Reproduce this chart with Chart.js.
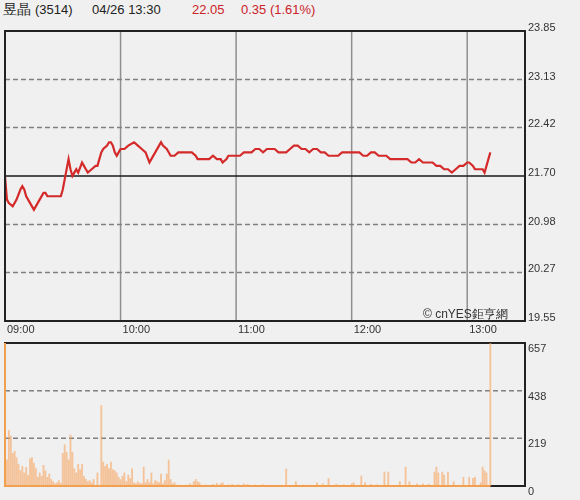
<!DOCTYPE html>
<html><head><meta charset="utf-8">
<script src="https://cdn.jsdelivr.net/npm/chart.js@4"></script>
<style>
html,body{margin:0;padding:0;background:#f0f0f0;width:580px;height:500px;overflow:hidden;font-family:"Liberation Sans",Arial,sans-serif;}
#hdr{position:absolute;left:0;top:2px;width:580px;height:18px;font-size:13px;color:#222;}
#hdr span{position:absolute;top:0;white-space:nowrap;}
.red{color:#cc2229;}
#c1{position:absolute;left:0;top:0;}
#c2{position:absolute;left:0;top:330px;}
#wm{position:absolute;left:423px;top:306px;font-size:12px;color:#333;white-space:nowrap;}
</style></head><body>
<div id="hdr"><span style="left:3px;font-size:14px;top:-1px">昱晶 <span style="position:static;font-size:13px">(3514)</span></span><span style="left:92px">04/26 13:30</span><span class="red" style="left:192px">22.05</span><span class="red" style="left:241px">0.35 (1.61%)</span></div>
<canvas id="c1" width="580" height="340"></canvas>
<canvas id="c2" width="580" height="170"></canvas>
<div id="wm">© cnYES鉅亨網</div>
<script>
// minutes after 09:00
const hourTicks = [0, 60, 120, 180, 240];
const hourLabels = ['09:00', '10:00', '11:00', '12:00', '13:00'];
const priceTickLabels = ['19.55', '20.27', '20.98', '21.70', '22.42', '23.13', '23.85'];
const prevClose = 21.70;
const volTickLabels = ['0', '219', '438', '657'];

const priceTimes = [0,1,2,4,6,8,9,10,11,12,14,15,16,18,20,21,22,24,27,29,30,31,32,33,34,35,36,37,38,40,41,42,43,45,47,48,49,50,51,53,54,55,56,57,58,59,60,62,64,67,69,71,73,75,76,78,80,81,82,84,86,88,90,92,95,97,99,100,102,104,106,108,110,112,113,115,116,118,120,122,124,126,128,130,132,134,136,138,140,142,144,146,148,150,152,154,156,158,160,162,164,166,168,170,173,175,178,180,182,184,186,188,190,192,194,196,198,200,203,206,209,211,213,215,217,220,222,224,226,228,230,232,234,236,238,240,241,243,244,246,248,249,250,251,252];
const prices = [21.70,21.35,21.30,21.25,21.35,21.50,21.55,21.50,21.40,21.35,21.25,21.20,21.25,21.35,21.45,21.45,21.40,21.40,21.40,21.40,21.50,21.65,21.80,21.95,21.80,21.70,21.75,21.80,21.75,21.90,21.85,21.80,21.75,21.80,21.85,21.85,21.95,22.05,22.10,22.15,22.20,22.20,22.15,22.05,22.00,22.05,22.10,22.10,22.15,22.20,22.15,22.10,22.05,21.90,21.95,22.05,22.15,22.20,22.15,22.10,22.00,22.00,22.05,22.05,22.05,22.05,22.00,21.95,21.95,21.95,21.95,22.00,21.95,21.95,21.90,21.95,22.00,22.00,22.00,22.00,22.05,22.05,22.05,22.10,22.10,22.05,22.10,22.10,22.10,22.05,22.05,22.05,22.10,22.15,22.15,22.10,22.10,22.05,22.10,22.10,22.05,22.05,22.00,22.00,22.00,22.05,22.05,22.05,22.05,22.05,22.00,22.00,22.05,22.05,22.00,22.00,22.00,21.95,21.95,21.95,21.95,21.90,21.90,21.95,21.90,21.90,21.90,21.85,21.85,21.80,21.80,21.75,21.80,21.85,21.85,21.90,21.90,21.85,21.80,21.80,21.80,21.75,21.85,21.95,22.05];

const volTimes = [0,1,2,3,4,5,6,7,8,9,10,11,12,13,14,15,16,17,18,19,20,21,22,23,24,25,26,27,28,29,30,31,32,33,34,35,36,37,38,39,40,41,42,43,44,45,46,48,50,51,52,53,54,55,56,57,58,59,60,61,62,63,64,65,66,67,68,69,70,71,72,73,74,75,76,77,78,79,80,81,82,83,84,85,86,87,88,90,92,94,96,98,99,100,101,104,108,110,112,113,116,118,121,124,126,130,134,136,146,151,155,158,162,165,168,172,176,180,181,185,187,190,193,197,199,205,208,210,214,217,220,223,224,225,227,228,230,233,238,241,243,244,247,248,249,250,252];
const volumes = [650,120,255,230,150,160,130,100,70,90,60,85,50,125,130,105,80,40,60,45,95,70,40,55,30,20,10,15,25,12,150,190,155,120,235,155,80,60,100,75,100,45,30,20,25,15,30,60,370,110,90,100,80,110,75,70,60,40,30,45,60,20,50,35,80,15,10,20,12,10,87,15,30,15,60,10,25,20,15,55,10,25,55,119,30,10,15,5,3,4,10,20,30,20,15,5,8,12,10,15,5,8,6,10,8,5,6,4,78,20,5,4,15,10,35,8,5,10,15,46,15,8,6,64,64,20,87,20,10,10,8,64,87,60,64,50,64,20,40,40,35,40,15,87,70,60,657];

const LEFT = 5, AXW = 55;
const fontSpec = {family: '"Liberation Sans", Arial, sans-serif', size: 11};

function hline(ctx, area, y, color, w, dash) {
  ctx.save(); ctx.strokeStyle = color; ctx.lineWidth = w; ctx.setLineDash(dash || []);
  ctx.beginPath(); ctx.moveTo(area.left, y); ctx.lineTo(area.right, y); ctx.stroke(); ctx.restore();
}

const priceDeco = {
  id: 'priceDeco',
  beforeDatasetsDraw(chart) {
    const {ctx, chartArea: a, scales: {x, y}} = chart;
    ctx.save();
    ctx.strokeStyle = '#8f8f8f'; ctx.lineWidth = 1.5;
    hourTicks.slice(1).forEach(m => {
      const px = x.getPixelForValue(m);
      ctx.beginPath(); ctx.moveTo(px, a.top); ctx.lineTo(px, a.bottom); ctx.stroke();
    });
    ctx.restore();
    priceTickLabels.forEach((lab, i) => {
      const v = parseFloat(lab);
      if (i === 0 || i === priceTickLabels.length - 1 || v === prevClose) return;
      hline(ctx, a, y.getPixelForValue(v), '#808080', 1.5, [5, 3]);
    });
    hline(ctx, a, y.getPixelForValue(prevClose), '#1a1a1a', 1.5);
  },
  afterDatasetsDraw(chart) {
    const {ctx, chartArea: a} = chart;
    ctx.save(); ctx.strokeStyle = '#222'; ctx.lineWidth = 2;
    ctx.strokeRect(a.left, a.top, a.right - a.left, a.bottom - a.top); ctx.restore();
  }
};

new Chart(document.getElementById('c1'), {
  type: 'line',
  data: {datasets: [{
    data: priceTimes.map((m, i) => ({x: m, y: prices[i]})),
    borderColor: '#d42a2a', borderWidth: 2.2, pointRadius: 0, tension: 0, fill: false
  }]},
  options: {
    responsive: false, animation: false,
    layout: {padding: {left: LEFT, top: 31, right: 0, bottom: 0}},
    plugins: {legend: {display: false}, tooltip: {enabled: false}},
    scales: {
      x: {
        type: 'linear', min: 0, max: 270,
        afterBuildTicks: s => { s.ticks = hourTicks.map(v => ({value: v})); },
        afterFit: s => { s.height = 19; },
        grid: {display: false, drawTicks: false}, border: {display: false},
        ticks: {autoSkip: false, maxRotation: 0, align: 'start', labelOffset: 2, padding: 2,
          color: '#333', font: fontSpec,
          callback: v => hourLabels[hourTicks.indexOf(v)]}
      },
      y: {
        position: 'right', min: parseFloat(priceTickLabels[0]), max: parseFloat(priceTickLabels[priceTickLabels.length - 1]),
        afterBuildTicks: s => { s.ticks = priceTickLabels.map(l => ({value: parseFloat(l)})); },
        afterFit: s => { s.width = AXW; },
        grid: {display: false, drawTicks: false}, border: {display: false},
        ticks: {autoSkip: false, padding: 3, labelOffset: -3, color: '#333', font: fontSpec,
          callback: (v, i) => priceTickLabels[i]}
      }
    }
  },
  plugins: [priceDeco]
});

const volDeco = {
  id: 'volDeco',
  beforeDatasetsDraw(chart) {
    const {ctx, chartArea: a, scales: {y}} = chart;
    volTickLabels.slice(1, -1).forEach(l => hline(ctx, a, y.getPixelForValue(parseFloat(l)), '#808080', 1.5, [5, 3]));
    ctx.save(); ctx.strokeStyle = '#222'; ctx.lineWidth = 2;
    ctx.strokeRect(a.left, a.top, a.right - a.left, a.bottom - a.top); ctx.restore();
  },
  afterDatasetsDraw(chart) {
    const {ctx, chartArea: a, scales: {x}} = chart;
    ctx.save(); ctx.strokeStyle = '#f0a050'; ctx.lineWidth = 2;
    ctx.beginPath();
    ctx.moveTo(a.left, a.top); ctx.lineTo(a.left, a.bottom);
    ctx.lineTo(x.getPixelForValue(volTimes[volTimes.length - 1]), a.bottom);
    ctx.stroke(); ctx.restore();
  }
};

new Chart(document.getElementById('c2'), {
  type: 'bar',
  data: {datasets: [{
    data: volTimes.map((m, i) => ({x: m, y: volumes[i]})),
    backgroundColor: 'rgba(246,165,95,0.6)', barThickness: 1.2, borderWidth: 0
  }]},
  options: {
    responsive: false, animation: false,
    layout: {padding: {left: LEFT, top: 13, right: 0, bottom: 14}},
    plugins: {legend: {display: false}, tooltip: {enabled: false}},
    scales: {
      x: {type: 'linear', min: 0, max: 270, display: false, offset: false},
      y: {
        position: 'right', min: 0, max: parseFloat(volTickLabels[volTickLabels.length - 1]),
        afterBuildTicks: s => { s.ticks = volTickLabels.map(l => ({value: parseFloat(l)})); },
        afterFit: s => { s.width = AXW; },
        grid: {display: false, drawTicks: false}, border: {display: false},
        ticks: {autoSkip: false, padding: 3, labelOffset: 6, color: '#333', font: fontSpec,
          callback: (v, i) => volTickLabels[i]}
      }
    }
  },
  plugins: [volDeco]
});
</script>
</body></html>
